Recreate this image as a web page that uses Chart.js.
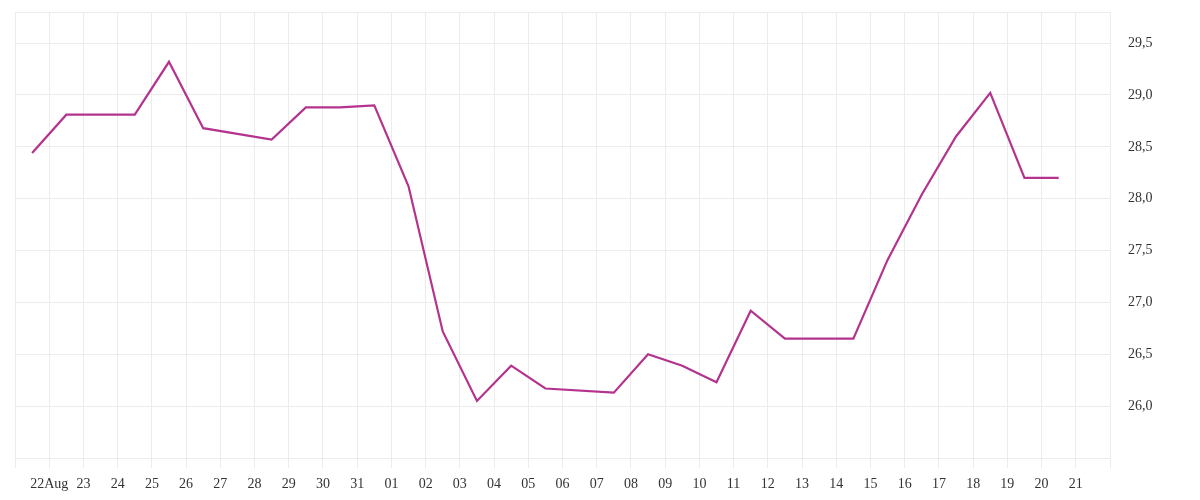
<!DOCTYPE html>
<html>
<head>
<meta charset="utf-8">
<script src="https://cdn.jsdelivr.net/npm/chart.js@4"></script>
<style>
  html, body { margin: 0; padding: 0; background: #fff; }
  #wrap { width: 1200px; height: 500px; }
</style>
</head>
<body>
<div id="wrap"><canvas id="priceChart"></canvas></div>
<script>
// x-axis tick labels, one per day boundary (0 = 21 Aug ... 32 = 22 Sep)
const tickLabels = ['', '22Aug', '23', '24', '25', '26', '27', '28', '29', '30', '31',
    '01', '02', '03', '04', '05', '06', '07', '08', '09', '10',
    '11', '12', '13', '14', '15', '16', '17', '18', '19', '20', '21', ''];

// day index of each observation (0 = 21 Aug)
const pointDays = [0, 1, 3, 4, 5, 7, 8, 9, 10, 11, 12, 13, 14, 15,
    17, 18, 19, 20, 21, 22, 24, 25, 26, 27, 28, 29, 30];

const values = [28.44, 28.81, 28.81, 29.32, 28.68, 28.57, 28.88, 28.88, 28.90, 28.12,
    26.72, 26.05, 26.39, 26.17, 26.13, 26.50, 26.39, 26.23, 26.92, 26.65,
    26.65, 27.41, 28.04, 28.60, 29.02, 28.20, 28.20];

document.addEventListener('DOMContentLoaded', function () {
    // points sit in the middle of their day
    const points = pointDays.map((d, i) => ({ x: d + 0.5, y: values[i] }));

    const font = { family: '"Liberation Serif", serif', size: 14 };
    const gridColor = '#ececec';

    const ctx = document.getElementById('priceChart').getContext('2d');
    new Chart(ctx, {
        type: 'line',
        data: {
            datasets: [{
                data: points,
                borderColor: '#b3338e',
                borderWidth: 2.2,
                pointRadius: 0,
                tension: 0,
                fill: false
            }]
        },
        options: {
            responsive: true,
            maintainAspectRatio: false,
            animation: false,
            layout: { padding: { left: 15, top: 12, right: 0, bottom: 0 } },
            plugins: {
                legend: { display: false },
                tooltip: { enabled: false }
            },
            scales: {
                x: {
                    type: 'linear',
                    min: 0,
                    max: tickLabels.length - 1,
                    border: { display: false },
                    grid: { color: gridColor, tickLength: 10, tickColor: gridColor },
                    ticks: {
                        stepSize: 1,
                        autoSkip: false,
                        maxRotation: 0,
                        padding: 8,
                        color: '#333',
                        font: font,
                        callback: v => tickLabels[v] || ''
                    },
                    afterFit: s => {
                        s.height = 42;
                        s.paddingLeft = 0;
                        s.paddingRight = 0;
                    }
                },
                y: {
                    position: 'right',
                    min: 25.5,
                    max: 29.8,
                    border: { display: false },
                    grid: { color: gridColor, drawTicks: false },
                    ticks: {
                        stepSize: 0.5,
                        padding: 18,
                        color: '#333',
                        font: font,
                        callback: v => (Math.abs(v * 2 - Math.round(v * 2)) < 1e-6 && v > 25.6)
                            ? v.toFixed(1).replace('.', ',') : ''
                    },
                    afterFit: s => {
                        s.width = 90;
                        s.paddingTop = 0;
                        s.paddingBottom = 0;
                    }
                }
            }
        }
    });
});
</script>
</body>
</html>
